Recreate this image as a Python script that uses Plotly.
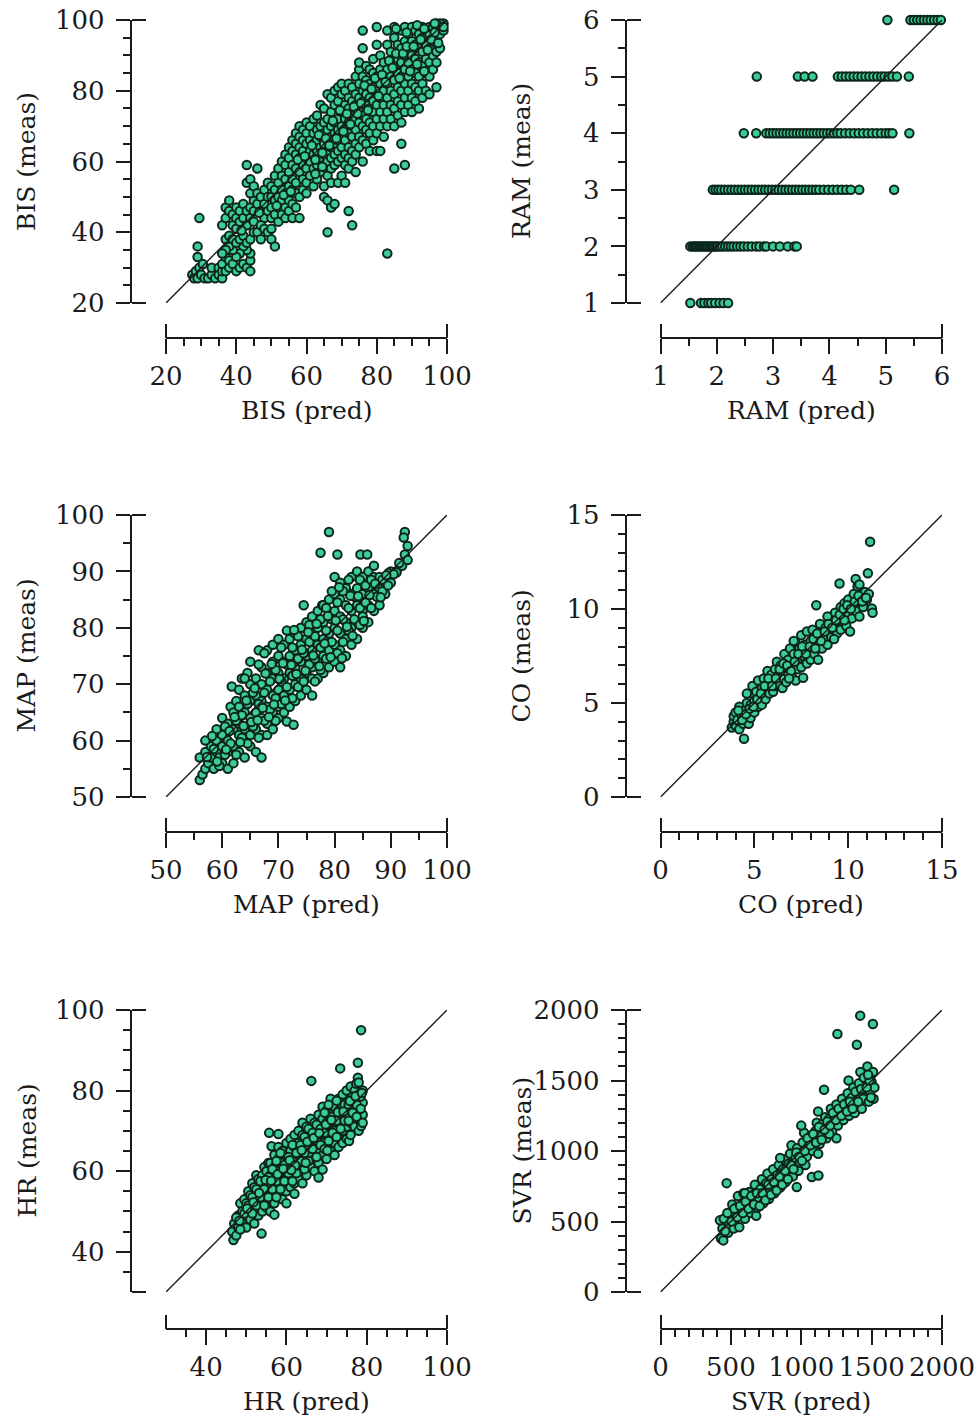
import plotly.graph_objects as go

W, H = 979, 1418

# ---------------- data (pred, meas) ----------------
bis_points = [
    (27.5,28),(28,27),(28.5,29),(29,27),(29.5,30),(29,33),(29,36),(29.5,44),(30,28),(31,27),(32,27),(33,28),(34,27),(35,28),(36,27),(30.5,31),(33,30),(35,30),(36,29),
    (36,31),(37,29),(37,33),(38,30),(38,32),(39,31),(40,29),(41,30),(42,31),(43,30),(44,29),(44,32),(44,34),(43,35),(42,36),(41,34),(40,33),(39,35),(38,36),(37,35),(36,34),
    (37,38),(38,39),(39,38),(40,37),(41,38),(42,39),(43,37),(44,38),(45,40),(36,42),(37,44),(37,47),(38,49),(38,46),(39,45),(39,42),(40,41),(40,44),(40,47),(41,43),(41,46),
    (42,44),(42,48),(43,42),(43,46),(44,44),(44,47),(45,43),(45,46),(45,49),(44,51),(43,54),(44,55),(43,59),(46,58),(45,53),(46,51),(46,48),(47,46),(47,50),(48,44),(48,48),
    (48,52),(49,46),(49,50),(49,54),(46,40),(47,42),(48,41),(49,40),(50,41),(50,38),(51,36),(47,38),
    (50,44),(50,47),(50,50),(50,53),(51,45),(51,49),(51,52),(51,56),(52,43),(52,47),(52,50),(52,54),(52,58),(53,45),(53,49),(53,52),(53,56),(53,60),(54,44),(54,47),(54,51),
    (54,55),(54,59),(54,62),(55,46),(55,49),(55,53),(55,57),(55,61),(55,64),(56,44),(56,48),(56,52),(56,55),(56,59),(56,63),(56,66),(57,47),(57,51),(57,54),(57,58),(57,62),
    (57,65),(57,68),(58,44),(58,50),(58,57),(58,61),(58,64),(58,67),(58,70),(59,52),(59,55),(59,59),(59,63),(59,66),(59,69),(60,51),(60,54),(60,58),(60,61),(60,65),(60,68),(60,71),
    (61,56),(61,60),(61,63),(61,66),(61,70),(62,53),(62,58),(62,62),(62,65),(62,68),(62,72),(63,55),(63,59),(63,63),(63,66),(63,69),(63,73),(64,57),(64,61),(64,64),(64,67),
    (64,70),(64,76),(65,50),(65,53),(65,59),(65,62),(65,65),(65,68),(65,71),(65,75),(66,40),(66,49),(66,56),(66,60),(66,63),(66,66),(66,69),(66,72),(66,79),(67,47),(67,54),
    (67,58),(67,61),(67,64),(67,67),(67,70),(67,74),(67,78),(68,48),(68,59),(68,62),(68,65),(68,68),(68,71),(68,76),(68,80),(69,54),(69,60),(69,63),(69,66),(69,69),(69,72),
    (69,77),(69,81),(70,56),(70,61),(70,64),(70,67),(70,70),(70,74),(70,79),(70,82),
    (71,54),(71,59),(71,62),(71,66),(71,69),(71,72),(71,76),(71,80),(72,46),(72,58),(72,61),(72,64),(72,68),(72,71),(72,75),(72,78),(72,82),(73,42),(73,60),(73,63),(73,67),
    (73,70),(73,73),(73,77),(73,81),(74,57),(74,62),(74,65),(74,69),(74,72),(74,76),(74,79),(74,84),(75,64),(75,67),(75,71),(75,74),(75,78),(75,82),(75,86),(75,88),(76,60),
    (76,66),(76,70),(76,73),(76,77),(76,80),(76,84),(76,92),(76,97),(77,65),(77,69),(77,72),(77,76),(77,79),(77,83),(77,87),(78,63),(78,68),(78,71),(78,75),(78,78),(78,82),
    (78,86),(79,66),(79,70),(79,74),(79,77),(79,81),(79,85),(79,89),(80,63),(80,68),(80,72),(80,76),(80,80),(80,84),(80,93),(80,98),
    (81,63),(81,70),(81,74),(81,78),(81,82),(81,86),(81,90),(82,67),(82,72),(82,76),(82,80),(82,84),(82,88),(83,34),(83,70),(83,74),(83,78),(83,82),(83,86),(83,93),(83,97),
    (84,72),(84,76),(84,80),(84,84),(84,88),(84,91),(85,58),(85,70),(85,75),(85,79),(85,83),(85,87),(85,95),(85,98),(86,73),(86,77),(86,81),(86,85),(86,89),(86,93),(87,65),
    (87,71),(87,76),(87,80),(87,84),(87,88),(87,92),(87,97),(88,59),(88,74),(88,78),(88,82),(88,86),(88,90),(88,94),(88,98),(89,76),(89,80),(89,84),(89,88),(89,92),(89,96),
    (90,74),(90,78),(90,82),(90,86),(90,90),(90,94),(90,98),
    (91,77),(91,81),(91,85),(91,89),(91,93),(91,97),(92,75),(92,80),(92,84),(92,88),(92,92),(92,96),(93,78),(93,82),(93,87),(93,91),(93,95),(93,98),(94,80),(94,85),(94,89),
    (94,93),(94,97),(95,79),(95,84),(95,88),(95,92),(95,96),(95,98),(96,86),(96,90),(96,94),(96,98),(97,81),(97,88),(97,91),(97,95),(97,98),(98,92),(98,96),(98,98),(99,97),
    (99,99),(98,99),(97,99),
    (41.5,40.5),(46.5,45.5),(51.5,47.5),(53.5,50.5),(55.5,51.5),(57.5,60.5),(59.5,61.5),(61.5,64.5),(62.5,60.5),(63.5,67.5),(64.5,62.5),(65.5,66.5),(66.5,64.5),(67.5,71.5),
    (68.5,66.5),(69.5,74.5),(70.5,68.5),(71.5,73.5),(72.5,70.5),(73.5,75.5),(74.5,73.5),(75.5,76.5),(76.5,81.5),(77.5,74.5),(78.5,80.5),(79.5,83.5),(80.5,78.5),(81.5,84.5),
    (82.5,82.5),(83.5,88.5),(84.5,86.5),(85.5,90.5),(86.5,83.5),(87.5,90.5),(88.5,92.5),(89.5,85.5),(90.5,92.5),(91.5,87.5),(92.5,94.5),(93.5,85.5),(94.5,91.5),(95.5,94.5),
    (96.5,96.5),(97.5,93.5),(85.5,97.5),(88.5,96.5),(91.5,98.5),(93.5,97.5),(96.5,99),(99,98),(62.5,56.5),(64.5,58.5),
]

ram_pred = [
    1.53,1.72,1.78,1.85,1.9,1.97,2.05,2.12,2.2,
    1.53,1.57,1.6,1.63,1.66,1.69,1.72,1.75,1.78,1.81,1.84,1.87,1.9,1.93,1.96,1.99,2.02,2.06,2.1,2.15,2.2,2.25,2.3,2.36,2.42,2.48,2.55,2.62,2.7,2.76,2.84,2.88,3.0,3.12,3.26,3.38,3.42,
    1.93,1.98,2.03,2.08,2.14,2.2,2.26,2.32,2.38,2.44,2.5,2.56,2.62,2.68,2.74,2.8,2.86,2.92,2.98,3.04,3.1,3.16,3.22,3.28,3.34,3.4,3.46,3.52,3.58,3.64,3.7,3.76,3.82,3.9,3.98,4.06,4.14,4.22,4.3,4.38,4.53,5.15,
    2.48,2.7,2.88,2.94,3.0,3.06,3.12,3.18,3.24,3.3,3.36,3.42,3.48,3.54,3.6,3.66,3.72,3.78,3.84,3.9,3.96,4.02,4.08,4.14,4.2,4.28,4.36,4.44,4.52,4.6,4.68,4.76,4.84,4.92,5.0,5.06,5.12,5.42,
    2.71,3.44,3.56,3.7,4.15,4.22,4.29,4.36,4.43,4.5,4.57,4.64,4.71,4.78,4.85,4.92,4.98,5.05,5.12,5.2,5.41,
    5.03,5.44,5.5,5.56,5.62,5.68,5.74,5.8,5.86,5.92,5.98,6.03,
]
ram_meas = [1]*9 + [2]*37 + [3]*42 + [4]*38 + [5]*21 + [6]*12

map_points = [
    (56,53),(56.5,54),(56,57),(57,55),(57,58),(57.5,56),(58,57),(58,59),(58.5,55),(59,58),(59,60),(59.5,57),(60,56),(60,59),(60,61),(60,64),(59,62),(57,60),
    (61,55),(61,58),(61,60),(61,63),(61.5,66),(61.7,69.6),(62,56),(62,59),(62,62),(62,65),(62.5,67),(63,58),(63,61),(63,63),(63,66),(63,69),(63.5,71),(64,57),(64,60),(64,62),
    (64,65),(64,68),(64.5,72),(65,59),(65,61),(65,64),(65,67),(65,70),(65,74),(64,71),
    (66,58),(66,62),(66,65),(66,68),(66,71),(66.5,76),(67,57),(67,61),(67,64),(67,67),(67,70),(67,73),(68,61),(68,63),(68,66),(68,69),(68,72),(68,76),(69,62),(69,65),(69,68),
    (69,71),(69,74),(69,77),(70,64),(70,66),(70,69),(70,72),(70,75),(70,78),
    (71,65),(71,68),(71,71),(71,74),(71,77),(71.5,63.4),(72,66),(72,69),(72,72),(72,75),(72,78),(72.7,62.8),(73,67),(73,70),(73,73),(73,76),(73,79),(74,68),(74,71),(74,74),
    (74,77),(74,80),(74.5,84),(75,69),(75,72),(75,75),(75,78),(75,81),
    (76,68),(76,71),(76,73),(76,76),(76,79),(76,82),(77,71),(77,74),(77,77),(77,80),(77,83),(77.8,84),(78,72),(78,75),(78,78),(78,81),(78,84),(79,73),(79,76),(79,79),(79,82),
    (79,85),(80,74),(80,77),(80,80),(80,83),(80,86),(80,89),
    (81,73),(81,76),(81,79),(81,82),(81,85),(81,88),(82,75),(82,78),(82,81),(82,84),(82,87),(83,77),(83,80),(83,83),(83,86),(83,89),(84,78),(84,81),(84,84),(84,87),(84,90),
    (85,80),(85,83),(85,86),(85,89),(85,82),
    (86,81),(86,84),(86,87),(86,90),(87,83),(87,86),(87,89),(87,91),(88,84),(88,87),(88,89),(89,86),(89,88),(90,88),(90,90),(91,90),(92,91),(92.5,93),(93,92),(92.5,97),
    (92.3,96),(93,94.5),
    (81,102),(79,97),(77.5,93.3),(80.5,93),(84.6,93),(85.8,93),(89.6,89.7),(91,89.8),
    (58.5,58.5),(59.5,55.5),(60.5,57.5),(60.5,62.5),(61.5,59.5),(62.5,63.5),(62.5,57.5),(63.5,60.5),(63.5,64.5),(64.5,66.5),(64.5,59.5),(65.5,62.5),(65.5,68.5),(66.5,60.5),
    (66.5,66.5),(66.5,73.5),(67.5,63.5),(67.5,68.5),(67.5,75.5),(68.5,65.5),(68.5,70.5),(69.5,63.5),(69.5,67.5),(69.5,72.5),(70.5,66.5),(70.5,70.5),(70.5,76.5),(71.5,69.5),
    (71.5,73.5),(71.5,79.5),(72.5,67.5),(72.5,71.5),(72.5,76.5),(73.5,69.5),(73.5,74.5),(73.5,78.5),(74.5,70.5),(74.5,75.5),(75.5,73.5),(75.5,77.5),(75.5,80.5),(76.5,70.5),
    (76.5,74.5),(76.5,78.5),(77.5,72.5),(77.5,76.5),(77.5,81.5),(78.5,74.5),(78.5,79.5),(78.5,83.5),(79.5,77.5),(79.5,81.5),(79.5,86.5),(80.5,75.5),(80.5,79.5),(80.5,84.5),
    (81.5,77.5),(81.5,81.5),(81.5,86.5),(82.5,79.5),(82.5,83.5),(82.5,88.5),(83.5,81.5),(83.5,85.5),(84.5,80.5),(84.5,83.5),(84.5,88.5),(85.5,84.5),(85.5,87.5),(86.5,83.5),
    (86.5,88.5),(87.5,85.5),(88.5,86.5),(88.5,88.5),(89.5,87.5),(90.5,89.5),(91.5,91.5),
    (57.3,57.1),(58.2,60.8),(59.1,56.3),(60.7,58.4),(61.3,61.7),(62.2,64.2),(63.2,59.7),(63.8,62.6),(64.3,67.1),(65.2,63.3),(65.8,69.3),(66.3,63.6),(67.2,65.8),(67.7,71.9),
    (68.3,64.2),(68.8,73.6),(69.2,66.4),(70.2,70.9),(70.8,73.7),(71.2,67.1),(72.3,73.4),(72.8,79.6),(73.2,71.8),(74.2,76.1),(74.8,72.4),(75.3,79.2),(76.2,75.1),(76.8,80.7),
    (77.3,73.2),(78.2,77.2),(78.8,82.1),(79.3,74.8),(80.2,81.3),(80.8,87.2),(81.3,74.6),(82.2,80.2),(82.8,85.7),(83.2,78.6),(84.2,85.6),(85.2,81.2),(86.2,85.8),(87.2,87.8),
    (88.2,85.4),(89.2,89.3),
]

co_points = [
    (3.8,3.7),(3.9,4.0),(3.9,4.3),(4.0,3.8),(4.0,4.5),(4.1,4.1),(4.2,4.8),(4.2,3.6),(4.3,4.4),(4.4,3.9),(4.45,3.1),(4.5,4.6),(4.5,4.2),(4.6,5.0),(4.7,3.9),(4.7,4.5),(4.8,4.9),
    (4.8,4.2),(4.9,5.5),(5.0,4.5),(5.0,5.1),(4.6,5.5),(4.9,5.9),(5.1,5.6),(5.2,4.8),(5.2,6.2),(5.3,5.3),(5.4,4.9),(5.4,5.8),(5.5,6.3),(5.6,5.2),(5.6,5.7),(5.7,6.7),(5.8,5.5),
    (5.8,6.1),(5.9,6.5),(6.0,5.6),(6.0,6.2),(6.1,5.9),(6.1,6.8),(6.2,7.2),(6.3,6.0),(6.3,6.5),(6.4,7.0),(6.5,5.8),(6.5,6.3),(6.6,6.8),(6.6,7.6),(6.7,6.1),(6.8,6.6),(6.8,7.3),
    (6.9,7.9),(7.0,6.4),(7.0,7.0),(7.1,7.6),(7.2,6.2),(7.2,8.2),(7.3,6.8),(7.3,7.3),(7.4,7.9),(7.5,8.6),(7.5,6.9),(7.6,6.34),(7.6,7.5),(7.7,8.1),(7.8,7.1),(7.8,8.8),(7.9,7.7),
    (8.0,7.3),(8.0,8.3),(8.1,8.9),(8.2,7.6),(8.3,10.2),(8.3,8.1),(8.4,7.3),(8.5,8.6),(8.5,9.2),(8.6,7.9),(8.7,8.4),(8.8,9.0),(8.9,8.1),(9.0,8.8),(9.0,9.5),(9.1,8.5),(9.2,9.2),
    (9.3,9.8),(9.4,8.7),(9.5,9.4),(9.54,11.36),(9.6,10.1),(9.6,8.9),(9.7,9.6),(9.8,10.3),(9.9,9.1),(10.0,9.8),(10.0,10.5),(10.1,8.8),(10.2,9.5),(10.2,10.2),(10.3,10.8),
    (10.4,9.9),(10.4,11.6),(10.5,11.2),(10.5,10.4),(10.6,9.6),(10.7,10.7),(10.8,10.1),(10.9,10.9),(11.0,10.5),(11.05,11.9),(11.17,13.58),(11.26,10.03),(11.3,9.8),(11.1,10.8),
    (7.1,8.3),(6.4,6.7),(5.7,5.9),(8.9,9.6),(9.8,9.4),(10.6,11.3),
    (4.15,4.6),(4.35,4.1),(4.55,4.4),(4.75,4.7),(4.95,4.8),(5.15,5.2),(5.35,5.5),(5.55,5.9),(5.75,6.3),(5.95,5.9),(6.15,6.3),(6.35,6.8),(6.55,7.1),(6.75,7.0),(6.95,6.7),
    (7.15,7.2),(7.35,7.6),(7.55,8.0),(7.75,7.6),(7.95,8.0),(8.15,8.4),(8.35,8.7),(8.55,8.3),(8.75,8.8),(8.95,9.2),(9.15,9.0),(9.35,9.4),(9.55,9.7),(9.75,10.0),(9.95,10.2),
    (10.15,10.0),(10.35,10.4),(10.55,10.7),(10.75,10.4),(10.95,10.6),(9.25,8.4),(8.25,7.9),(6.85,6.3),
]

hr_points = [
    (46.5,45),(46.8,42.9),(47,47),(47.5,44),(48,46),(48,49),(48.5,52),(49,47),(49,50),(49.5,53),(50,46),(50,49),(50,52),(50.5,55),(51,48),(51,51),(51,54),(51.5,57),(52,47),
    (52,50),(52,53),(52,56),(52.5,59),(53,49),(53,52),(53,55),(53,58),(53.8,44.5),(54,50),(54,53),(54,56),(54,59),(54.5,61),(55,51),(55,54),(55,57),(55,60),(55.5,62),
    (55.7,69.5),(56,50),(56,53),(56,56),(56,59),(56,62),(56.3,66.2),(57,49.2),(57,52),(57,55),(57,58),(57,61),(57,64),(58,69.2),(58,54),(58,57),(58,60),(58,63),(58,66),
    (59,53),(59,56),(59,59),(59,62),(59,65),(60,52),(60,55),(60,58),(60,61),(60,64),(60,67),(61,56),(61,59),(61,62),(61,65),(61,68),(62,54.4),(62,57),(62,60),(62,63),(62,66),
    (62,69),(63,58),(63,61),(63,64),(63,67),(63,70),(64,57),(64,60),(64,63),(64,66),(64,69),(64,72),(65,59),(65,62),(65,65),(65,68),(65,71),(66,61),(66,64),(66,67),(66,70),
    (66,73),(66.2,82.4),(67,60),(67,63),(67,66),(67,69),(67,72),(68,58.4),(68,62),(68,65),(68,68),(68,71),(68,74),(69,60.4),(69,64),(69,67),(69,70),(69,73),(69,76),(70,63),
    (70,66),(70,69),(70,72),(70,75),(71,65),(71,68),(71,71),(71,74),(71,78),(72,64),(72,67),(72,70),(72,73),(72,76),(73,66),(73,69),(73,72),(73,75),(73,78),(73.4,85.5),
    (74,67),(74,70),(74,73),(74,76),(74,79),(75,68),(75,71),(75,74),(75,77),(75,80),(75.6,67.5),(76,69),(76,72),(76,75),(76,78),(76,81),(77,71),(77,74),(77,77),(77,80),
    (77.4,81.7),(77.8,83.2),(77.8,86.9),(78,70),(78,73),(78,76),(78,79),(78,82),(78.6,71.2),(78.6,95),(79,74),(79,77),(79,80),
    (47.5,48.5),(48.5,45.5),(49.5,49.5),(50.5,51.5),(51.5,49.5),(51.5,53.5),(52.5,51.5),(52.5,55.5),(53.5,53.5),(53.5,57.5),(54.5,51.5),(54.5,55.5),(55.5,53.5),(55.5,58.5),
    (56.5,55.5),(56.5,60.5),(57.5,53.5),(57.5,57.5),(57.5,62.5),(58.5,55.5),(58.5,59.5),(58.5,64.5),(59.5,57.5),(59.5,61.5),(60.5,59.5),(60.5,63.5),(61.5,57.5),(61.5,61.5),
    (61.5,66.5),(62.5,59.5),(62.5,64.5),(63.5,62.5),(63.5,66.5),(64.5,60.5),(64.5,64.5),(64.5,68.5),(65.5,62.5),(65.5,66.5),(65.5,70.5),(66.5,65.5),(66.5,69.5),(67.5,63.5),
    (67.5,67.5),(67.5,71.5),(68.5,66.5),(68.5,70.5),(69.5,65.5),(69.5,69.5),(69.5,74.5),(70.5,67.5),(70.5,71.5),(70.5,76.5),(71.5,69.5),(71.5,73.5),(72.5,68.5),(72.5,72.5),
    (72.5,77.5),(73.5,70.5),(73.5,74.5),(74.5,72.5),(74.5,76.5),(75.5,72.5),(75.5,76.5),(76.5,74.5),(76.5,78.5),(77.5,73.5),(77.5,76.5),(78.5,75.5),(78.5,78.5),(79,72),
    (48.3,47.7),(50.2,50.7),(51.8,52.3),(53.2,54.6),(54.8,57.8),(56.2,57.6),(57.8,59.2),(59.2,60.6),(60.8,62.7),(62.2,61.4),(63.8,65.2),(65.2,67.3),(66.8,68.2),(68.2,69.4),
    (69.8,71.6),(71.2,72.7),(72.8,74.6),(74.2,74.8),(75.8,77.4),(77.2,78.6),(78.8,79.4),(61.2,60.3),(64.8,62.1),(70.2,65.1),
]

svr_points = [
    (430,380),(446,366),(440,450),(422,508),(450,520),(470,772),(480,420),(490,480),(500,560),(510,620),(520,450),(530,520),(540,600),(550,680),(560,460),(570,540),(580,620),
    (590,700),(600,520),(610,580),(620,650),(630,710),(640,560),(650,620),(660,690),(670,760),(680,540),(690,600),(700,660),(710,730),(720,800),(730,630),(740,700),(750,770),
    (760,840),(770,660),(780,730),(790,800),(800,870),(810,700),(820,760),(830,830),(840,900),(850,740),(860,800),(870,870),(880,940),(890,780),(900,840),(910,910),(920,980),
    (930,1040),(940,820),(950,880),(960,950),(968,744),(970,1020),(980,860),(990,920),(1000,990),(1010,1060),(1020,1130),(1030,900),(1040,960),(1050,1030),(1060,1100),
    (1075,815),(1080,1000),(1090,1070),(1100,1140),(1110,1200),(1122,826),(1120,980),(1130,1050),(1140,1120),(1150,1190),(1162,1434),(1170,1240),(1180,1090),(1190,1160),
    (1200,1230),(1210,1300),(1220,1140),(1230,1200),(1240,1270),(1250,1330),(1260,1180),(1270,1240),(1280,1300),(1290,1370),(1300,1220),(1310,1280),(1320,1340),(1330,1410),
    (1336,1500),(1340,1250),(1350,1310),(1360,1380),(1370,1450),(1380,1270),(1390,1330),(1400,1400),(1410,1480),(1420,1560),(1430,1300),(1440,1370),(1450,1440),(1460,1520),
    (1470,1600),(1480,1350),(1490,1420),(1500,1490),(1510,1560),(1514,1370),(1520,1450),(1419,1960),(1509,1901),(1257,1830),(1395,1754),(1250,1090),(1120,1280),(850,950),
    (1000,1180),(1200,1120),(600,700),
    (460,430),(475,560),(505,500),(525,590),(545,530),(565,610),(585,560),(605,640),(625,590),(645,680),(665,620),(685,700),(705,610),(725,700),(745,650),(765,760),(785,690),
    (805,780),(825,720),(845,820),(865,760),(885,860),(905,800),(925,900),(945,870),(965,990),(985,960),(1005,930),(1025,1000),(1045,1090),(1065,1040),(1085,1120),(1105,1060),
    (1125,1170),(1145,1080),(1165,1150),(1185,1210),(1205,1180),(1225,1270),(1245,1220),(1265,1300),(1285,1250),(1305,1330),(1325,1280),(1345,1350),(1365,1300),(1385,1420),
    (1405,1350),(1425,1440),(1445,1520),(1465,1450),(1485,1500),(1495,1380),(1475,1540),
]

bis_ticks = [20, 40, 60, 80, 100]
ram_ticks = [1, 2, 3, 4, 5, 6]
map_ticks = [50, 60, 70, 80, 90, 100]
co_ticks = [0, 5, 10, 15]
hr_ticks = [40, 60, 80, 100]
svr_ticks = [0, 500, 1000, 1500, 2000]

panels = [
    dict(name="BIS", x=[p[0] for p in bis_points], y=[p[1] for p in bis_points], lo=20, hi=100, ticks=bis_ticks, minor=5),
    dict(name="RAM", x=ram_pred, y=ram_meas, lo=1, hi=6, ticks=ram_ticks, minor=0.5),
    dict(name="MAP", x=[p[0] for p in map_points], y=[p[1] for p in map_points], lo=50, hi=100, ticks=map_ticks, minor=5),
    dict(name="CO", x=[p[0] for p in co_points], y=[p[1] for p in co_points], lo=0, hi=15, ticks=co_ticks, minor=1),
    dict(name="HR", x=[p[0] for p in hr_points], y=[p[1] for p in hr_points], lo=30, hi=100, ticks=hr_ticks, minor=5),
    dict(name="SVR", x=[p[0] for p in svr_points], y=[p[1] for p in svr_points], lo=0, hi=2000, ticks=svr_ticks, minor=100),
]

# ---------------- layout geometry (pixels) ----------------
cols = [(166, 447, 130.5), (660.5, 942, 625.5)]      # plot left, plot right, y-axis line x
rows = [(20, 303, 338), (515, 797, 832), (1010, 1292, 1329)]  # plot top, plot bottom, x-axis line y

FONT = "DejaVu Serif"
INK = "#1a1a1a"
FILL = "#3ccc97"
EDGE = "#0c261b"
TICKFONT = dict(family=FONT, size=26, color=INK)
TITLEFONT = dict(family=FONT, size=25, color=INK)

fig = go.Figure()
layout = dict(width=W, height=H, autosize=False,
              margin=dict(l=0, r=0, t=0, b=0, pad=0, autoexpand=False),
              paper_bgcolor="white", plot_bgcolor="white", showlegend=False,
              font=dict(family=FONT, size=24, color=INK))
annotations = []

def minor_vals(lo, hi, step, major):
    vals = []
    n = int(round((hi - lo) / step))
    for k in range(1, n):
        v = round(lo + k * step, 6)
        if all(abs(v - m) > 1e-9 for m in major):
            vals.append(v)
    return vals

for i, p in enumerate(panels):
    r, c = divmod(i, 2)
    x0, x1, yline = cols[c]
    y0, y1, xline = rows[r]
    mx, my, ox, oy = 2 * i + 1, 2 * i + 1, 2 * i + 2, 2 * i + 2
    xdom = [x0 / W, x1 / W]
    ydom = [1 - y1 / H, 1 - y0 / H]
    rng = [p["lo"], p["hi"]]
    mv = minor_vals(p["lo"], p["hi"], p["minor"], p["ticks"])
    common = dict(range=rng, showgrid=False, zeroline=False, fixedrange=True, automargin=False)
    layout[f"xaxis{mx}"] = dict(common, domain=xdom, anchor="free", position=1 - xline / H,
                                showline=True, linecolor=INK, linewidth=1.5,
                                tickmode="array", tickvals=p["ticks"], ticks="outside",
                                ticklen=15, tickwidth=1.5, tickcolor=INK, tickfont=TICKFONT,
                                minor=dict(tickmode="array", tickvals=mv, ticks="outside",
                                           ticklen=7, tickwidth=1.5, tickcolor=INK, showgrid=False))
    layout[f"yaxis{my}"] = dict(common, domain=ydom, anchor="free", position=yline / W,
                                showline=True, linecolor=INK, linewidth=1.5,
                                tickmode="array", tickvals=p["ticks"], ticks="outside",
                                ticklen=14, tickwidth=1.5, tickcolor=INK, tickfont=TICKFONT,
                                ticklabelstandoff=6,
                                minor=dict(tickmode="array", tickvals=mv, ticks="outside",
                                           ticklen=7, tickwidth=1.5, tickcolor=INK, showgrid=False))
    # companion axes on the opposite side: their outside ticks point into the plot (end caps)
    layout[f"xaxis{ox}"] = dict(common, overlaying=f"x{mx}" if mx > 1 else "x", anchor="free",
                                side="top", position=1 - xline / H, showline=False,
                                tickmode="array", tickvals=rng, ticks="outside", ticklen=14,
                                tickwidth=1.5, tickcolor=INK, showticklabels=False)
    layout[f"yaxis{oy}"] = dict(common, overlaying=f"y{my}" if my > 1 else "y", anchor="free",
                                side="right", position=yline / W, showline=False,
                                tickmode="array", tickvals=rng, ticks="outside", ticklen=14,
                                tickwidth=1.5, tickcolor=INK, showticklabels=False)

    xa = "x" if mx == 1 else f"x{mx}"
    ya = "y" if my == 1 else f"y{my}"
    fig.add_trace(go.Scatter(x=p["x"], y=p["y"], mode="markers", xaxis=xa, yaxis=ya,
                             cliponaxis=False,
                             marker=dict(size=8.5, color=FILL, line=dict(color=EDGE, width=2))))
    fig.add_trace(go.Scatter(x=rng, y=rng, mode="lines", xaxis=f"x{ox}", yaxis=f"y{oy}",
                             cliponaxis=False, line=dict(color=INK, width=1.4)))

    annotations.append(dict(text=f"{p['name']} (pred)", xref="paper", yref="paper",
                            x=(x0 + x1) / 2 / W, y=1 - (xline + 72) / H,
                            xanchor="center", yanchor="middle", showarrow=False,
                            font=TITLEFONT))
    annotations.append(dict(text=f"{p['name']} (meas)", xref="paper", yref="paper",
                            x=(yline - 104) / W, y=1 - (y0 + y1) / 2 / H, textangle=-90,
                            xanchor="center", yanchor="middle", showarrow=False,
                            font=TITLEFONT))

layout["annotations"] = annotations
fig.update_layout(**layout)
fig.write_html("out.html")
